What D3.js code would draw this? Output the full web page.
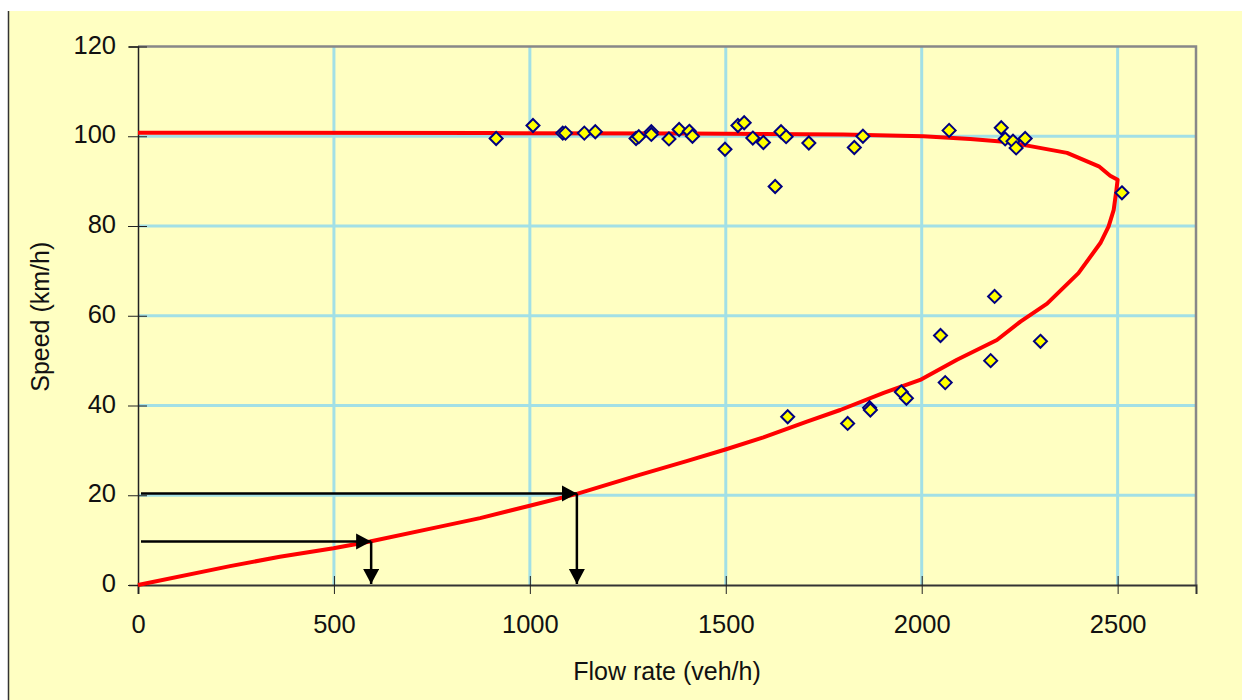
<!DOCTYPE html>
<html>
<head>
<meta charset="utf-8">
<script src="https://cdn.jsdelivr.net/npm/d3@7"></script>
<style>
  body { margin: 0; background: #fff; }
  text { font-family: "Liberation Sans", Arial, sans-serif; fill: #111; }
</style>
</head>
<body>
<div id="chart"></div>
<script>
// observed flow / speed pairs
const obsFlow = [914, 1008, 1084, 1091, 1139, 1167, 1271, 1278, 1310, 1310, 1355, 1381, 1407, 1415,
  1498, 1531, 1547, 1569, 1596, 1626, 1641, 1654, 1712, 1828, 1850, 2070, 2203, 2213, 2233, 2241,
  2264, 2511, 2186, 2048, 2303, 2176, 2060, 1948, 1961, 1867, 1869, 1658, 1811];
const obsSpeed = [99.5, 102.4, 100.7, 100.7, 100.7, 101.0, 99.5, 99.9, 101.0, 100.4, 99.4, 101.5, 101.1, 100.0,
  97.1, 102.4, 103.0, 99.6, 98.6, 88.8, 101.0, 99.9, 98.5, 97.5, 100.0, 101.3, 101.9, 99.4, 98.9, 97.4,
  99.5, 87.4, 64.3, 55.6, 54.3, 50.0, 45.1, 43.0, 41.6, 39.5, 39.0, 37.5, 36.0];

// fitted speed-flow curve, congested branch first then free-flow branch
const curveFlow = [0, 235, 362, 499, 592, 771, 873, 997, 1120, 1282, 1400, 1499, 1596, 1707, 1792, 1903, 1996,
  2090, 2192, 2252, 2320, 2400, 2456, 2477, 2490, 2497, 2500, 2481, 2452, 2371, 2277, 2218, 2124, 2004,
  1800, 1400, 900, 0];
const curveSpeed = [0, 4.2, 6.3, 8.2, 9.7, 13.0, 14.9, 17.6, 20.3, 24.6, 27.6, 30.2, 32.9, 36.4, 39.0, 42.8, 45.7,
  50.2, 54.6, 58.7, 62.7, 69.5, 76.2, 79.9, 83.6, 88.1, 90.3, 91.2, 93.3, 96.3, 97.8, 98.7, 99.4, 100.0,
  100.4, 100.6, 100.7, 100.8];

// speed -> flow readings shown with arrows
const readSpeed = [9.7, 20.4];
const readFlow = [595, 1120];

const xTicks = [0, 500, 1000, 1500, 2000, 2500];
const yTicks = [0, 20, 40, 60, 80, 100, 120];

const width = 1242, height = 700;
const margin = {top: 46.5, right: 46, bottom: 115, left: 138};

const svg = d3.select('#chart').append('svg')
  .attr('width', width)
  .attr('height', height);

// pale yellow panel with dark left edge
svg.append('rect')
  .attr('x', 8).attr('y', 11)
  .attr('width', width - 8).attr('height', height - 11)
  .attr('fill', '#ffffc2');
svg.append('line')
  .attr('x1', 8.5).attr('x2', 8.5).attr('y1', 11).attr('y2', height)
  .attr('stroke', '#333').attr('stroke-width', 1.5);

const x = d3.scaleLinear().domain([0, 2700]).range([margin.left, width - margin.right]);
const y = d3.scaleLinear().domain([0, 120]).range([height - margin.bottom, margin.top]);

// gridlines
const grid = svg.append('g').attr('class', 'grid');
grid.selectAll('line.v')
  .data(xTicks.filter(d => d > 0)).enter()
  .append('line')
  .attr('x1', d => x(d)).attr('x2', d => x(d))
  .attr('y1', y(120)).attr('y2', y(0))
  .attr('stroke', '#a2e0e6').attr('stroke-width', 3);
grid.selectAll('line.h')
  .data(yTicks.filter(d => d > 0 && d < 120)).enter()
  .append('line')
  .attr('x1', x(0)).attr('x2', x(2700))
  .attr('y1', d => y(d)).attr('y2', d => y(d))
  .attr('stroke', '#a2e0e6').attr('stroke-width', 3);

// top and right frame
svg.append('path')
  .attr('d', `M${x(0)},${y(120)}H${x(2700)}V${y(0)}`)
  .attr('fill', 'none')
  .attr('stroke', '#888').attr('stroke-width', 2.5);

// axes
const xAxis = svg.append('g')
  .attr('transform', `translate(0,${y(0)})`)
  .call(d3.axisBottom(x).tickValues(xTicks).tickSize(9).tickFormat(d3.format('d')));
xAxis.select('.domain').attr('stroke', '#333').attr('stroke-width', 2);
xAxis.selectAll('.tick line').attr('y1', -9).attr('stroke', '#222');
xAxis.selectAll('.tick text')
  .attr('y', 48).attr('dy', 0)
  .style('font-size', '25.5px')
  .style('font-family', '"Liberation Sans", Arial, sans-serif')
  .attr('fill', '#111');

const yAxis = svg.append('g')
  .attr('transform', `translate(${x(0)},0)`)
  .call(d3.axisLeft(y).tickValues(yTicks).tickSize(9));
yAxis.select('.domain').attr('stroke', '#222').attr('stroke-width', 1.5);
yAxis.selectAll('.tick line').attr('x2', 9).attr('x1', -10).attr('stroke', '#222');
yAxis.selectAll('.tick text')
  .attr('x', -22).attr('dy', '0.26em')
  .style('font-size', '25.5px')
  .style('font-family', '"Liberation Sans", Arial, sans-serif')
  .attr('fill', '#111');

// axis titles
svg.append('text')
  .attr('x', (x(0) + x(2700)) / 2)
  .attr('y', 680)
  .attr('text-anchor', 'middle')
  .style('font-size', '25px')
  .text('Flow rate (veh/h)');
svg.append('text')
  .attr('transform', `translate(48.5,${(y(0) + y(120)) / 2 + 1}) rotate(-90)`)
  .attr('text-anchor', 'middle')
  .style('font-size', '25px')
  .text('Speed (km/h)');

// fitted curve
const line = d3.line()
  .x(d => x(d[0]))
  .y(d => y(d[1]));
svg.append('path')
  .datum(curveFlow.map((f, i) => [f, curveSpeed[i]]))
  .attr('fill', 'none')
  .attr('stroke', '#ff0000')
  .attr('stroke-width', 4)
  .attr('stroke-linejoin', 'round')
  .attr('d', line);

// arrows
svg.append('defs').append('marker')
  .attr('id', 'head')
  .attr('markerUnits', 'userSpaceOnUse')
  .attr('markerWidth', 18).attr('markerHeight', 18)
  .attr('refX', 15).attr('refY', 8)
  .attr('orient', 'auto')
  .append('path')
  .attr('d', 'M0,0L15,8L0,16Z')
  .attr('fill', '#000');

const arrows = svg.append('g');
readFlow.forEach((f, i) => {
  arrows.append('line')
    .attr('x1', x(0) + 3).attr('x2', x(f))
    .attr('y1', y(readSpeed[i])).attr('y2', y(readSpeed[i]))
    .attr('stroke', '#000').attr('stroke-width', 2.5)
    .attr('marker-end', 'url(#head)');
  arrows.append('line')
    .attr('x1', x(f)).attr('x2', x(f))
    .attr('y1', y(readSpeed[i])).attr('y2', y(0) - 1)
    .attr('stroke', '#000').attr('stroke-width', 2.5)
    .attr('marker-end', 'url(#head)');
});

// observations
svg.append('g')
  .selectAll('path')
  .data(obsFlow.map((f, i) => [f, obsSpeed[i]])).enter()
  .append('path')
  .attr('transform', d => `translate(${x(d[0])},${y(d[1])})`)
  .attr('d', 'M0,-6.5L6.5,0L0,6.5L-6.5,0Z')
  .attr('fill', '#ffff00')
  .attr('stroke', '#000080')
  .attr('stroke-width', 2);
</script>
</body>
</html>
